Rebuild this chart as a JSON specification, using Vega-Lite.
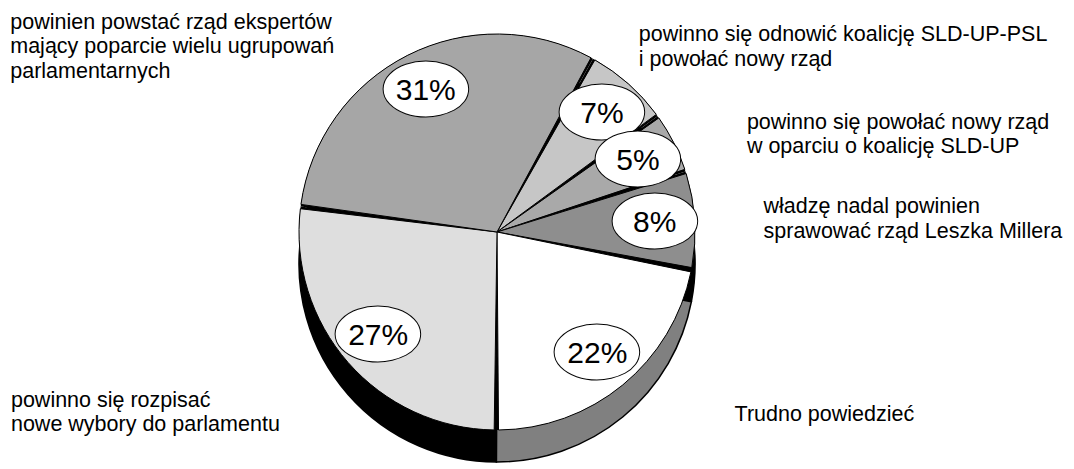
{
  "$schema": "https://vega.github.io/schema/vega-lite/v6.json",
  "width": 994,
  "height": 464,
  "padding": 0,
  "background": "white",
  "config": {"view": {"stroke": null}, "font": "Liberation Sans"},
  "data": {"values": [
    {"idx": 1, "pct": 7, "answer": "powinno się odnowić koalicję SLD-UP-PSL\ni powołać nowy rząd"},
    {"idx": 2, "pct": 5, "answer": "powinno się powołać nowy rząd\nw oparciu o koalicję SLD-UP"},
    {"idx": 3, "pct": 8, "answer": "władzę nadal powinien\nsprawować rząd Leszka Millera"},
    {"idx": 4, "pct": 22, "answer": "Trudno powiedzieć"},
    {"idx": 5, "pct": 27, "answer": "powinno się rozpisać\nnowe wybory do parlamentu"},
    {"idx": 6, "pct": 31, "answer": "powinien powstać rząd ekspertów\nmający poparcie wielu ugrupowań\nparlamentarnych"}
  ]},
  "transform": [
    {"stack": "pct", "sortby": [{"field": "idx", "order": "ascending"}], "groupby": [], "as": ["t0", "t1"]},
    {"calculate": "(datum.t0 + datum.t1) / 2", "as": "tm"},
    {"calculate": "datum.pct + '%'", "as": "pctText"}
  ],
  "layer": [
    {
      "mark": {"type": "arc", "outerRadius": 198, "yOffset": 32, "stroke": "black", "strokeWidth": 1.5},
      "encoding": {
        "theta": {"field": "t0", "type": "quantitative", "scale": {"domain": [0, 100], "range": [0.506, 6.789]}},
        "theta2": {"field": "t1"},
        "fill": {"field": "idx", "type": "nominal", "scale": {"domain": [1, 2, 3, 4, 5, 6], "range": ["#000000", "#000000", "#000000", "#808080", "#000000", "#000000"]}, "legend": null}
      }
    },
    {
      "mark": {"type": "arc", "outerRadius": 198, "fill": "black"},
      "encoding": {
        "theta": {"field": "t0", "type": "quantitative"},
        "theta2": {"field": "t1"}
      }
    },
    {
      "mark": {"type": "arc", "outerRadius": 198, "padAngle": 0.022, "stroke": "black", "strokeWidth": 1},
      "encoding": {
        "theta": {"field": "t0", "type": "quantitative"},
        "theta2": {"field": "t1"},
        "color": {"field": "idx", "type": "nominal", "scale": {"domain": [1, 2, 3, 4, 5, 6], "range": ["#c6c6c6", "#a9a9a9", "#8e8e8e", "#ffffff", "#dedede", "#a6a6a6"]}, "legend": null}
      }
    },
    {
      "mark": {"type": "text", "radius": 158, "text": "⬬", "fontSize": 105, "fill": "white", "stroke": "black", "strokeWidth": 1, "baseline": "middle", "align": "center", "font": "DejaVu Sans"},
      "encoding": {"theta": {"field": "tm", "type": "quantitative", "stack": null}}
    },
    {
      "mark": {"type": "text", "radius": 158, "fontSize": 30, "fill": "black", "baseline": "middle", "align": "center"},
      "encoding": {"theta": {"field": "tm", "type": "quantitative", "stack": null}, "text": {"field": "pctText"}}
    },
    {
      "transform": [{"filter": "datum.idx == 1"}],
      "mark": {"type": "text", "radius": 215, "dx": -1, "dy": -30, "align": "left", "baseline": "alphabetic", "fontSize": 21.5, "lineHeight": 24.5, "lineBreak": "\n"},
      "encoding": {"theta": {"field": "tm", "type": "quantitative", "stack": null}, "text": {"field": "answer"}}
    },
    {
      "transform": [{"filter": "datum.idx == 2"}],
      "mark": {"type": "text", "radius": 280, "dx": 0, "dy": 23, "align": "left", "baseline": "alphabetic", "fontSize": 21.5, "lineHeight": 24.5, "lineBreak": "\n"},
      "encoding": {"theta": {"field": "tm", "type": "quantitative", "stack": null}, "text": {"field": "answer"}}
    },
    {
      "transform": [{"filter": "datum.idx == 3"}],
      "mark": {"type": "text", "radius": 267, "dx": 0, "dy": -3, "align": "left", "baseline": "alphabetic", "fontSize": 21.5, "lineHeight": 24.5, "lineBreak": "\n"},
      "encoding": {"theta": {"field": "tm", "type": "quantitative", "stack": null}, "text": {"field": "answer"}}
    },
    {
      "transform": [{"filter": "datum.idx == 4"}],
      "mark": {"type": "text", "radius": 245, "dx": 82, "dy": 0, "align": "left", "baseline": "alphabetic", "fontSize": 21.5, "lineHeight": 24.5, "lineBreak": "\n"},
      "encoding": {"theta": {"field": "tm", "type": "quantitative", "stack": null}, "text": {"field": "answer"}}
    },
    {
      "transform": [{"filter": "datum.idx == 5"}],
      "mark": {"type": "text", "radius": 250, "dx": -298, "dy": 10, "align": "left", "baseline": "alphabetic", "fontSize": 21.5, "lineHeight": 24.5, "lineBreak": "\n"},
      "encoding": {"theta": {"field": "tm", "type": "quantitative", "stack": null}, "text": {"field": "answer"}}
    },
    {
      "transform": [{"filter": "datum.idx == 6"}],
      "mark": {"type": "text", "radius": 230, "dx": -383, "dy": 2, "align": "left", "baseline": "alphabetic", "fontSize": 21.5, "lineHeight": 24.5, "lineBreak": "\n"},
      "encoding": {"theta": {"field": "tm", "type": "quantitative", "stack": null}, "text": {"field": "answer"}}
    }
  ]
}
